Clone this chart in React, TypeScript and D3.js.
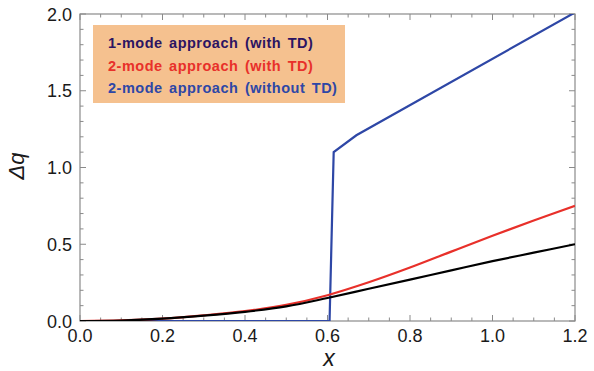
import React, { useEffect, useRef } from "react";
import * as d3 from "d3";

// Sampled x positions for the smooth curves
const xs = [0, 0.1, 0.2, 0.3, 0.4, 0.5, 0.6, 0.7, 0.8, 0.9, 1.0, 1.1, 1.2];
// 1-mode approach (with TD)
const oneModeTD = [0, 0.003, 0.015, 0.035, 0.06, 0.095, 0.15, 0.21, 0.27, 0.33, 0.39, 0.445, 0.5];
// 2-mode approach (with TD)
const twoModeTD = [0, 0.004, 0.016, 0.037, 0.064, 0.105, 0.168, 0.252, 0.348, 0.452, 0.555, 0.655, 0.75];
// 2-mode approach (without TD)
const twoModeNoTDx = [0, 0.605, 0.615, 0.67, 1.2];
const twoModeNoTDy = [0, 0, 1.1, 1.21, 2.01];

const legendLabels = [
  "1-mode approach (with TD)",
  "2-mode approach (with TD)",
  "2-mode approach (without TD)",
];
const xTicks = [0, 0.2, 0.4, 0.6, 0.8, 1.0, 1.2];
const yTicks = [0, 0.5, 1.0, 1.5, 2.0];

const colors = ["#000000", "#e8302a", "#2e47a6"];
const textColors = ["#2c1462", "#e8302a", "#2e47a6"];

export default function App() {
  const ref = useRef<SVGSVGElement>(null);

  useEffect(() => {
    const svg = d3.select(ref.current);
    svg.selectAll("*").remove();

    const left = 80,
      right = 575,
      top = 14,
      bottom = 321;
    const x = d3.scaleLinear().domain([0, 1.2]).range([left, right]);
    const y = d3.scaleLinear().domain([0, 2]).range([bottom, top]);
    const frame = "#8a8a8a";
    const font = "Liberation Sans, Arial, sans-serif";

    svg
      .append("defs")
      .append("clipPath")
      .attr("id", "plot-clip")
      .append("rect")
      .attr("x", left)
      .attr("y", top)
      .attr("width", right - left)
      .attr("height", bottom - top);

    // Minor + major ticks on all four sides
    const ticks = svg.append("g").attr("stroke", frame).attr("stroke-width", 1);
    d3.range(0, 25).forEach((i) => {
      const v = i * 0.05;
      const len = i % 4 === 0 ? 6 : 3.5;
      ticks.append("line").attr("x1", x(v)).attr("x2", x(v)).attr("y1", bottom).attr("y2", bottom - len);
      ticks.append("line").attr("x1", x(v)).attr("x2", x(v)).attr("y1", top).attr("y2", top + len);
    });
    d3.range(0, 21).forEach((i) => {
      const v = i * 0.1;
      const len = i % 5 === 0 ? 6 : 3.5;
      ticks.append("line").attr("x1", left).attr("x2", left + len).attr("y1", y(v)).attr("y2", y(v));
      ticks.append("line").attr("x1", right).attr("x2", right - len).attr("y1", y(v)).attr("y2", y(v));
    });

    // Frame
    svg
      .append("rect")
      .attr("x", left)
      .attr("y", top)
      .attr("width", right - left)
      .attr("height", bottom - top)
      .attr("fill", "none")
      .attr("stroke", frame)
      .attr("stroke-width", 1.2);

    // Tick labels
    svg
      .selectAll(".xlab")
      .data(xTicks)
      .enter()
      .append("text")
      .attr("x", (d) => x(d))
      .attr("y", 342)
      .attr("text-anchor", "middle")
      .attr("font-family", font)
      .attr("font-size", 18)
      .attr("fill", "#1a1a1a")
      .text((d) => d.toFixed(1));

    svg
      .selectAll(".ylab")
      .data(yTicks)
      .enter()
      .append("text")
      .attr("x", 72)
      .attr("y", (d) => y(d) + 6.5)
      .attr("text-anchor", "end")
      .attr("font-family", font)
      .attr("font-size", 18)
      .attr("fill", "#1a1a1a")
      .text((d) => d.toFixed(1));

    // Axis titles
    svg
      .append("text")
      .attr("x", 329)
      .attr("y", 366)
      .attr("text-anchor", "middle")
      .attr("font-family", font)
      .attr("font-style", "italic")
      .attr("font-size", 23)
      .attr("fill", "#1a1a1a")
      .text("x");

    svg
      .append("text")
      .attr("transform", "translate(24,166) rotate(-90)")
      .attr("text-anchor", "middle")
      .attr("font-family", font)
      .attr("font-style", "italic")
      .attr("font-size", 22)
      .attr("fill", "#1a1a1a")
      .text("Δq");

    // Legend box
    svg
      .append("rect")
      .attr("x", 93)
      .attr("y", 25)
      .attr("width", 252)
      .attr("height", 78)
      .attr("fill", "#f5c18f");

    svg
      .selectAll(".leg")
      .data(legendLabels)
      .enter()
      .append("text")
      .attr("x", 108)
      .attr("y", (d, i) => 48 + i * 22.5)
      .attr("font-family", font)
      .attr("font-weight", "bold")
      .attr("font-size", 14.5)
      .attr("letter-spacing", 0.5)
      .attr("word-spacing", 2)
      .attr("fill", (d, i) => textColors[i])
      .text((d) => d);

    // Curves
    const line = d3
      .line<[number, number]>()
      .x((d) => x(d[0]))
      .y((d) => y(d[1]));
    const smooth = d3
      .line<[number, number]>()
      .x((d) => x(d[0]))
      .y((d) => y(d[1]))
      .curve(d3.curveCatmullRom.alpha(0.5));

    const plot = svg.append("g").attr("clip-path", "url(#plot-clip)");
    const series: [number, number][][] = [
      xs.map((v, i) => [v, oneModeTD[i]]),
      xs.map((v, i) => [v, twoModeTD[i]]),
    ];

    plot
      .append("path")
      .attr("d", line(twoModeNoTDx.map((v, i) => [v, twoModeNoTDy[i]]) as [number, number][]))
      .attr("fill", "none")
      .attr("stroke", colors[2])
      .attr("stroke-width", 2.2);

    plot
      .append("path")
      .attr("d", smooth(series[1]))
      .attr("fill", "none")
      .attr("stroke", colors[1])
      .attr("stroke-width", 2.2);

    plot
      .append("path")
      .attr("d", smooth(series[0]))
      .attr("fill", "none")
      .attr("stroke", colors[0])
      .attr("stroke-width", 2.2);
  }, []);

  return (
    <svg
      ref={ref}
      width={594}
      height={371}
      style={{ position: "absolute", left: 0, top: 0, background: "#fff" }}
    />
  );
}
